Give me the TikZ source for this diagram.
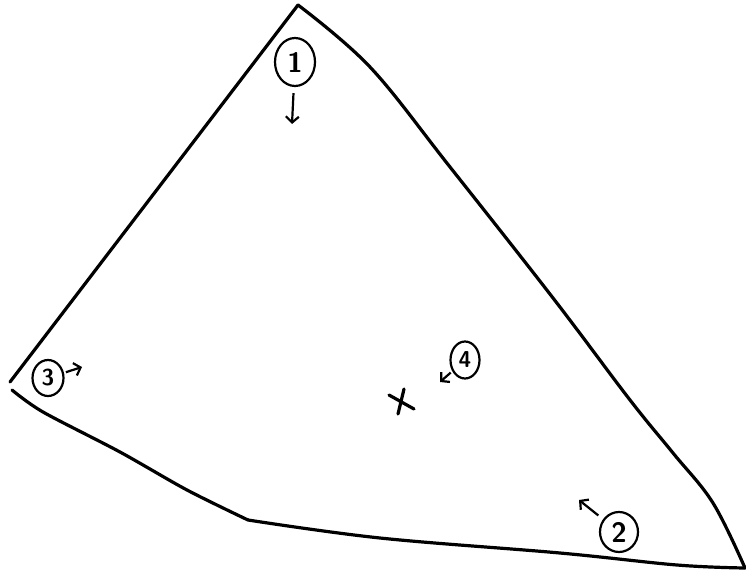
\documentclass[tikz,border=0pt]{standalone}
\usepackage{amsmath, amssymb}
\usepackage{fontspec}
\usepackage{tikz}
\usetikzlibrary{shapes.geometric, arrows.meta}

\tikzset{
	edge/.style={line width=3.2pt, line cap=round, line join=round},
	num/.style={draw, circle, line width=2.2pt, inner sep=0pt, font=\sffamily\bfseries\fontsize{28}{30}\selectfont},
	small/.style={font=\sffamily\bfseries\fontsize{23}{25}\selectfont},
	arr/.style={-{Straight Barb[length=6pt, width=13pt]}, line width=2.2pt, shorten <=6pt}
}

\begin{document}
\begin{tikzpicture}[x=1pt, y=-1pt]
			\useasboundingbox (0,0) rectangle (746,570);
			% corners
			\coordinate (apex) at (298,5);
			\coordinate (left) at (10,382);
			\coordinate (lowleft) at (12,390);
			\coordinate (bend) at (248,520);
			\coordinate (lowright) at (745,568);
			% outline
			\draw[edge] (apex) -- (left);
			\draw[edge] plot[smooth, tension=0.6] coordinates {(298,5) (370,67) (450,167) (553,298) (630,400) (673,453) (713,503) (745,568)};
			\draw[edge] plot[smooth, tension=0.6] coordinates {(745,568) (677,565) (560,553) (380,538) (248,520)};
			\draw[edge] plot[smooth, tension=0.5] coordinates {(248,520) (187,490) (120,452) (43,412) (12,390)};
			% numbered marks
			\node[num, minimum width=40pt, minimum height=48pt, ellipse] (n1) at (295,62) {1};
			\node[num, minimum width=38pt, minimum height=40pt, ellipse] (n2) at (619,532) {2};
			\node[num, small, minimum width=31pt, minimum height=36pt, ellipse] (n3) at (48,378) {3};
			\node[num, small, minimum width=29pt, minimum height=37pt, ellipse] (n4) at (465,360) {4};
			\coordinate (a1) at (292,124);
			\coordinate (a2) at (579,500);
			\coordinate (a3) at (82,367);
			\coordinate (a4) at (440,382);
			\draw[arr] (n1) -- (a1);
			\draw[arr] (n2) -- (a2);
			\draw[arr, shorten <=2pt] (n3) -- (a3);
			\draw[arr, shorten <=2pt] (n4) -- (a4);
			% the cross
			\coordinate (cross) at (401,401);
			\draw[edge] (389,395) -- (414,409);
			\draw[edge] (404,389) -- (398,414);
			\end{tikzpicture}
\end{document}
